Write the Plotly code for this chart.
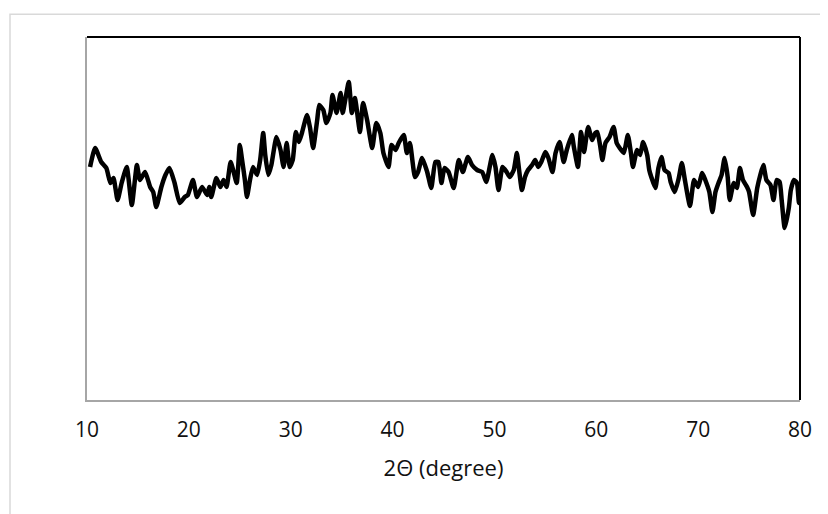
import plotly.graph_objects as go

two_theta = [10.3, 10.8, 11.4, 11.9, 12.3, 12.6, 13.0, 13.4, 13.9, 14.4, 14.9, 15.2, 15.7, 16.2, 16.5, 16.8,
             17.3, 17.7, 18.1, 18.6, 19.1, 19.6, 19.9, 20.4, 20.8, 21.3, 21.8, 22.0, 22.2, 22.7, 23.1, 23.4,
             23.7, 24.1, 24.4, 24.7, 25.0, 25.2, 25.5, 25.7, 26.0, 26.3, 26.7, 27.0, 27.3, 27.5, 27.8, 28.1,
             28.6, 29.0, 29.3, 29.6, 29.9, 30.2, 30.5, 30.8, 31.1, 31.6, 31.9, 32.2, 32.6, 32.8, 33.2, 33.5,
             33.9, 34.1, 34.5, 34.9, 35.1, 35.7, 36.0, 36.3, 36.8, 37.1, 37.5, 38.0, 38.4, 38.8, 39.1, 39.6,
             39.9, 40.3, 40.6, 41.1, 41.4, 41.7, 42.2, 42.5, 42.9, 43.4, 43.8, 44.2, 44.5, 44.8, 45.1, 45.5,
             46.0, 46.5, 46.9, 47.4, 47.8, 48.3, 48.8, 49.2, 49.8, 50.1, 50.4, 50.8, 51.2, 51.5, 51.9, 52.2,
             52.4, 52.7, 53.0, 53.3, 53.7, 54.0, 54.3, 54.6, 55.0, 55.3, 55.7, 56.0, 56.4, 56.8, 57.1, 57.6,
             57.8, 58.2, 58.5, 58.8, 59.2, 59.6, 59.9, 60.1, 60.4, 60.6, 60.9, 61.3, 61.7, 62.0, 62.3, 62.7,
             63.1, 63.4, 63.6, 64.0, 64.3, 64.6, 65.0, 65.2, 65.4, 65.8, 66.1, 66.4, 66.7, 67.1, 67.3, 67.7,
             68.1, 68.4, 68.7, 69.2, 69.6, 70.0, 70.4, 70.7, 71.1, 71.4, 71.7, 72.0, 72.3, 72.6, 72.9, 73.1,
             73.5, 73.8, 74.1, 74.4, 74.8, 75.0, 75.4, 75.8, 76.1, 76.4, 76.7, 77.1, 77.4, 77.7, 78.0, 78.2,
             78.5, 78.9, 79.1, 79.4, 79.7, 79.9, 80.0]

intensity = [233, 252, 238, 232, 217, 222, 200, 217, 233, 195, 235, 220, 228, 213, 208, 193,
             213, 225, 232, 217, 197, 203, 205, 220, 203, 213, 205, 213, 203, 222, 213, 220,
             213, 238, 228, 217, 255, 242, 220, 203, 220, 233, 225, 240, 267, 245, 225, 235,
             263, 250, 233, 257, 233, 240, 268, 258, 267, 285, 272, 252, 280, 295, 290, 277,
             287, 305, 287, 307, 287, 318, 287, 302, 268, 297, 280, 252, 277, 267, 247, 233,
             255, 250, 257, 265, 247, 257, 223, 228, 242, 228, 212, 238, 238, 217, 232, 228,
             212, 240, 228, 243, 235, 230, 228, 218, 245, 233, 210, 233, 228, 223, 230, 247,
             232, 210, 223, 230, 235, 240, 233, 238, 248, 242, 228, 247, 258, 238, 250, 265,
             253, 233, 268, 248, 273, 260, 267, 268, 253, 240, 257, 263, 273, 257, 252, 247,
             265, 247, 233, 250, 245, 258, 245, 230, 223, 212, 232, 243, 230, 227, 218, 208,
             222, 237, 220, 194, 220, 213, 227, 220, 208, 188, 208, 217, 225, 242, 223, 200,
             217, 212, 232, 220, 213, 208, 185, 212, 225, 235, 220, 215, 200, 220, 218, 200,
             172, 192, 210, 220, 217, 197, 200]

x_ticks = [10, 20, 30, 40, 50, 60, 70, 80]
x_title = "2Θ (degree)"

fig = go.Figure()
fig.add_trace(go.Scatter(
    x=two_theta, y=intensity, mode="lines",
    line=dict(color="black", width=4.5, shape="spline", smoothing=0.5),
    showlegend=False, hoverinfo="skip"))

font_family = "Open Sans, Noto Sans, sans-serif"

fig.update_layout(
    width=820, height=506,
    margin=dict(l=79, r=28, t=29, b=114),
    paper_bgcolor="white", plot_bgcolor="white",
    font=dict(family=font_family, size=21, color="#111111"),
    xaxis=dict(range=[10, 80], tickvals=x_ticks, ticktext=[str(v) for v in x_ticks],
               showgrid=False, zeroline=False, showline=True, linecolor="#a6a6a6", linewidth=1.5,
               ticks="", ticklabelstandoff=10,
               title=dict(text=x_title, standoff=19, font=dict(size=22))),
    yaxis=dict(range=[0, 363], showticklabels=False, showgrid=False, zeroline=False,
               showline=True, linecolor="#a6a6a6", linewidth=1.5, ticks=""),
    shapes=[
        dict(type="line", xref="paper", yref="paper", x0=0, x1=1, y0=1, y1=1,
             line=dict(color="black", width=1.8)),
        dict(type="line", xref="paper", yref="paper", x0=1, x1=1, y0=0, y1=1,
             line=dict(color="black", width=2)),
        dict(type="rect", xref="paper", yref="paper", x0=-0.108, x1=1.2, y0=-0.5, y1=1.063,
             line=dict(color="#d9d9d9", width=1.5), layer="below"),
    ],
)

fig.write_html("out.html")
